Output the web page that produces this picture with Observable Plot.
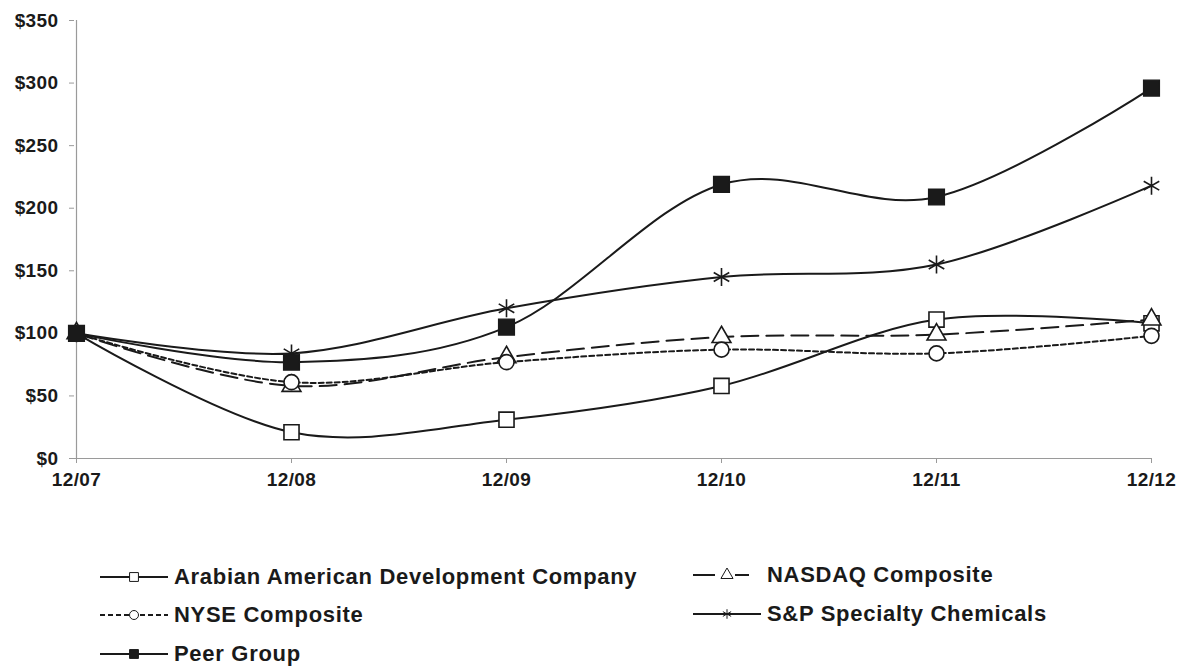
<!DOCTYPE html>
<html>
<head>
<meta charset="utf-8">
<script src="https://cdn.jsdelivr.net/npm/d3@7"></script>
<script src="https://cdn.jsdelivr.net/npm/@observablehq/plot@0.6"></script>
<style>
  html, body { margin: 0; padding: 0; background: #fff; }
  #wrap { position: relative; width: 1187px; height: 669px; font-family: "Liberation Sans", Arial, sans-serif; }
  #legend { position: absolute; left: 0; top: 0; width: 1187px; height: 669px; pointer-events: none; }
  .item { position: absolute; display: flex; align-items: center; height: 30px; }
  .item span { font-size: 22px; font-weight: bold; color: #1a1a1a; letter-spacing: 0.7px; margin-left: 6px; white-space: nowrap; }
</style>
</head>
<body>
<div id="wrap"><div id="chart"></div><div id="legend"></div></div>
<script>
const periods = ["12/07", "12/08", "12/09", "12/10", "12/11", "12/12"];
const yTicks = [0, 50, 100, 150, 200, 250, 300, 350];

const seriesNames = ["Arabian American Development Company", "NASDAQ Composite", "NYSE Composite", "S&P Specialty Chemicals", "Peer Group"];
const arabian = [100, 21, 31, 58, 111, 108];
const nasdaq  = [100, 58, 81, 97, 99, 111];
const nyse    = [100, 61, 77, 87, 84, 98];
const sp      = [100, 84, 120, 145, 155, 218];
const peer    = [100, 77, 105, 219, 209, 296];
const seriesValues = [arabian, nasdaq, nyse, sp, peer];

const ink = "#1a1a1a";
const styles = [
  {dash: null,   symbol: "square",   fill: "white", r: 8.5, sw: 1.6},
  {dash: "17,8", symbol: "triangle", fill: "white", r: 7,   sw: 1.6},
  {dash: "5,3",  symbol: "circle",   fill: "white", r: 7.5, sw: 1.6},
  {dash: null,   symbol: "asterisk", fill: "none",  r: 8.5, sw: 1.6},
  {dash: null,   symbol: "square",   fill: ink,     r: 9,   sw: 1.2}
];

const marks = [
  Plot.ruleY([0], {stroke: "#9a9a9a", strokeWidth: 1.2}),
  Plot.ruleX([periods[0]], {stroke: "#9a9a9a", strokeWidth: 1.2}),
  Plot.axisY({ticks: yTicks, tickSize: 5, tickPadding: 11, stroke: "#9a9a9a", fill: ink,
    tickFormat: d => "$" + d, label: null}),
  Plot.axisX({tickSize: 5, tickPadding: 9, stroke: "#9a9a9a", fill: ink, label: null})
];
seriesNames.forEach((name, i) => {
  const rows = periods.map((p, j) => ({period: p, value: seriesValues[i][j], series: name}));
  const s = styles[i];
  marks.push(Plot.line(rows, {x: "period", y: "value", curve: "cardinal", tension: 0,
    stroke: ink, strokeWidth: 2, strokeDasharray: s.dash || undefined}));
});
seriesNames.forEach((name, i) => {
  const rows = periods.map((p, j) => ({period: p, value: seriesValues[i][j], series: name}));
  const s = styles[i];
  marks.push(Plot.dot(rows, {x: "period", y: "value", symbol: () => s.symbol, r: s.r,
    fill: s.fill, stroke: ink, strokeWidth: s.sw}));
});

const chart = Plot.plot({
  width: 1187,
  height: 500,
  marginLeft: 74,
  marginRight: 35,
  marginTop: 20,
  marginBottom: 42,
  style: {fontFamily: "'Liberation Sans', Arial, sans-serif", fontSize: "19px", fontWeight: "bold", letterSpacing: "0.4px", background: "white"},
  x: {type: "point", domain: periods, padding: 0},
  y: {domain: [0, 350]},
  symbol: {type: "identity"},
  marks
});
document.getElementById("chart").appendChild(chart);

// legend
const legendPos = [
  {left: 100, top: 562}, {left: 693, top: 560},
  {left: 100, top: 600}, {left: 693, top: 599},
  {left: 100, top: 639}
];
const legend = document.getElementById("legend");
seriesNames.forEach((name, i) => {
  const s = styles[i];
  const div = document.createElement("div");
  div.className = "item";
  div.style.left = legendPos[i].left + "px";
  div.style.top = legendPos[i].top + "px";
  const svg = d3.create("svg").attr("width", 68).attr("height", 30);
  svg.append("line").attr("x1", 0).attr("x2", 68).attr("y1", 15).attr("y2", 15)
    .attr("stroke", ink).attr("stroke-width", 2)
    .attr("stroke-dasharray", i === 1 ? "22,12" : (s.dash || null));
  const symMap = {square: d3.symbolSquare, triangle: d3.symbolTriangle, circle: d3.symbolCircle, asterisk: d3.symbolAsterisk};
  const rr = s.symbol === "square" ? 5 : 4.5;
  const fillL = s.fill === "none" ? "none" : (s.fill === "white" ? "white" : ink);
  if (i === 1) {
    svg.append("rect").attr("x", 26).attr("y", 8).attr("width", 16).attr("height", 14).attr("fill", "white");
  }
  svg.append("path").attr("transform", "translate(34,15)")
    .attr("d", d3.symbol(symMap[s.symbol], rr * rr * Math.PI)())
    .attr("fill", fillL).attr("stroke", ink).attr("stroke-width", 1);
  div.appendChild(svg.node());
  const span = document.createElement("span");
  span.textContent = name;
  div.appendChild(span);
  legend.appendChild(div);
});
</script>
</body>
</html>
